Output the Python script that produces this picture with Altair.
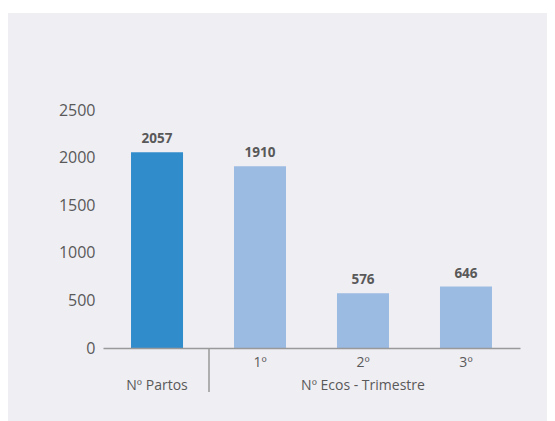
import altair as alt
import pandas as pd

# ---- data ----
categories = ["Partos", "1º", "2º", "3º"]
values = [2057, 1910, 576, 646]
bar_colors = ["#318ccc", "#9bbbe2", "#9bbbe2", "#9bbbe2"]
group_cats = ["Partos", "2º"]
group_labels = ["Nº Partos", "Nº Ecos - Trimestre"]
y_ticks = [0, 500, 1000, 1500, 2000, 2500]

FONT = "Open Sans"
PANEL = "#efeef3"
TEXT = "#595959"

W, H = 417, 238
PAD = {"left": 95, "top": 102, "right": 27, "bottom": 73}

df = pd.DataFrame({"cat": categories, "value": values})
groups = pd.DataFrame({"cat": group_cats, "label": group_labels})
one = pd.DataFrame({"k": [0]})

xscale = alt.Scale(domain=categories, paddingInner=0.495, paddingOuter=0.272)

background = alt.Chart(one).mark_rect(fill=PANEL).encode(
    x=alt.value(-PAD["left"]),
    x2=alt.value(W + PAD["right"]),
    y=alt.value(-97),
    y2=alt.value(H + PAD["bottom"]),
)

bars = alt.Chart(df).mark_bar().encode(
    x=alt.X(
        "cat:N",
        scale=xscale,
        sort=categories,
        title=None,
        axis=alt.Axis(
            labelExpr="datum.value == 'Partos' ? '' : datum.value",
            labelAngle=0,
            ticks=False,
            domainColor="#999999",
            domainWidth=1.5,
            labelFont=FONT,
            labelFontSize=14,
            labelColor=TEXT,
            labelPadding=7,
            zindex=1,
        ),
    ),
    y=alt.Y(
        "value:Q",
        scale=alt.Scale(domain=[0, 2500], nice=False),
        title=None,
        axis=alt.Axis(
            values=y_ticks,
            format="d",
            domain=False,
            ticks=False,
            grid=False,
            labelFont=FONT,
            labelFontSize=16,
            labelColor=TEXT,
            labelPadding=8,
            zindex=1,
        ),
    ),
    color=alt.Color(
        "cat:N",
        scale=alt.Scale(domain=categories, range=bar_colors),
        legend=None,
    ),
)

value_labels = alt.Chart(df).mark_text(
    font=FONT, fontSize=13.5, fontWeight="bold", color=TEXT, baseline="bottom", dy=-6
).encode(
    x=alt.X("cat:N", scale=xscale, sort=categories),
    y="value:Q",
    text="value:Q",
)

group_text = alt.Chart(groups).mark_text(
    font=FONT, fontSize=14, color=TEXT, baseline="middle"
).encode(
    x=alt.X("cat:N", scale=xscale, sort=categories),
    y=alt.value(276),
    text="label:N",
)

separator = alt.Chart(one).mark_rule(color="#999999", strokeWidth=1.5).encode(
    x=alt.value(106),
    y=alt.value(H),
    y2=alt.value(282),
)

chart = (
    alt.layer(background, bars, value_labels, group_text, separator)
    .properties(
        width=W,
        height=H,
        padding=PAD,
        autosize=alt.AutoSizeParams(type="none"),
        background="white",
    )
    .configure_view(stroke=None)
)

chart.save("out.html", embed_options={"renderer": "svg", "actions": False})
